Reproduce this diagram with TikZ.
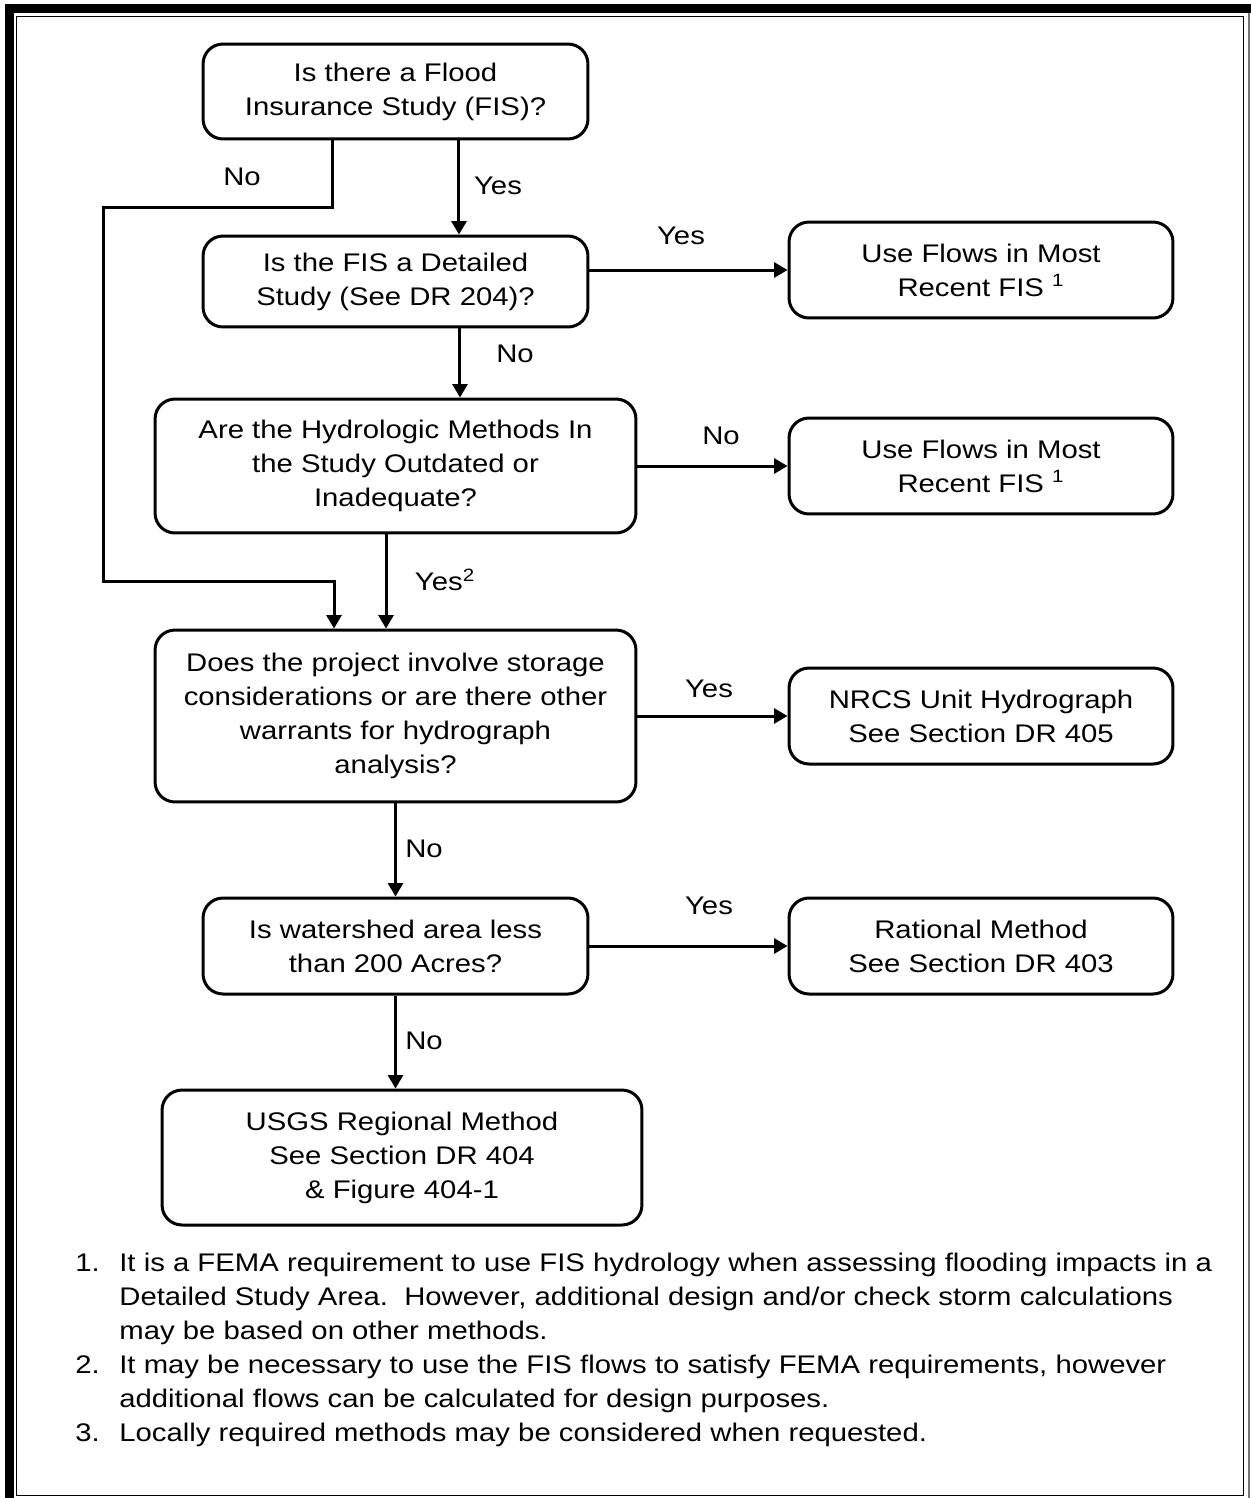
\documentclass[tikz,border=0pt]{standalone}
\usepackage{fontspec}
\setmainfont{Liberation Sans}[FakeStretch=1.15]
\usetikzlibrary{arrows.meta}
\newcommand{\chartfont}{\fontsize{14.5}{19.3}\selectfont}

\begin{document}
\begin{tikzpicture}[
        x=0.02cm, y=-0.02cm,
        box/.style={draw, line width=0.06cm, rounded corners=0.4cm, align=center, inner sep=0pt, font=\chartfont},
        flow/.style={line width=0.06cm, -{Triangle[length=0.27cm, width=0.3cm]}},
        answer/.style={font=\chartfont, inner sep=0pt},
        note/.style={font=\chartfont, inner sep=0pt, align=left, anchor=base west},
    ]
    \useasboundingbox (0,0) rectangle (1251,1498);

    % page border
    \draw[line width=0.17cm] (9.6,1498) -- (9.6,8.4) -- (1251,8.4);
    \draw[line width=0.035cm] (16.5,16.5) rectangle (1243.5,1495.5);
    \draw[line width=0.03cm, black!55] (1249,13) -- (1249,1498);

    % questions
    \node[box, minimum width=7.7cm, minimum height=1.9cm] (fis) at (395.5,91.5) {Is there a Flood\\Insurance Study (FIS)?};
    \node[box, minimum width=7.7cm, minimum height=1.82cm] (detail) at (395.5,281.5) {Is the FIS a Detailed\\Study (See DR 204)?};
    \node[box, minimum width=9.62cm, minimum height=2.68cm] (methods) at (395.5,466) {Are the Hydrologic Methods In\\the Study Outdated or\\Inadequate?};
    \node[box, minimum width=9.62cm, minimum height=3.44cm] (storage) at (395.5,716) {Does the project involve storage\\considerations or are there other\\warrants for hydrograph\\analysis?};
    \node[box, minimum width=7.7cm, minimum height=1.92cm] (area) at (395.5,946) {Is watershed area less\\than 200 Acres?};
    \node[box, minimum width=9.6cm, minimum height=2.7cm] (usgs) at (402,1157.5) {USGS Regional Method\\See Section DR 404\\\& Figure 404-1};

    % results
    \node[box, minimum width=7.68cm, minimum height=1.92cm] (flows1) at (981,270) {Use Flows in Most\\Recent FIS \textsuperscript{1}};
    \node[box, minimum width=7.68cm, minimum height=1.92cm] (flows2) at (981,466) {Use Flows in Most\\Recent FIS \textsuperscript{1}};
    \node[box, minimum width=7.68cm, minimum height=1.92cm] (nrcs) at (981,716) {NRCS Unit Hydrograph\\See Section DR 405};
    \node[box, minimum width=7.68cm, minimum height=1.92cm] (rational) at (981,946) {Rational Method\\See Section DR 403};

    % answers
    \node[answer] (fisno) at (242,177) {No};
    \node[answer] (fisyes) at (498,186) {Yes};
    \node[answer] (detailyes) at (681,236) {Yes};
    \node[answer] (detailno) at (515,354) {No};
    \node[answer] (methodsno) at (721,436) {No};
    \node[answer] (methodsyes) at (445,580) {Yes\textsuperscript{2}};
    \node[answer] (storageyes) at (709,689) {Yes};
    \node[answer] (storageno) at (424,849) {No};
    \node[answer] (areayes) at (709,906) {Yes};
    \node[answer] (areano) at (424,1041) {No};

    % connectors
    \draw[flow] ([xshift=1.27cm]fis.south) -- ([xshift=1.27cm]detail.north);
    \coordinate (nostart) at ([xshift=-1.27cm]fis.south);
    \draw[flow] (nostart) |- (103,207) -- (103,581) -| ([xshift=-1.23cm]storage.north);
    \draw[flow] (detail.east |- flows1.west) -- (flows1.west);
    \coordinate (detaildown) at ([xshift=1.29cm]detail.south);
    \draw[flow] (detaildown) -- (detaildown |- methods.north);
    \draw[flow] (methods.east) -- (flows2.west);
    \draw[flow] ([xshift=-0.19cm]methods.south) -- ([xshift=-0.19cm]storage.north);
    \draw[flow] (storage.east) -- (nrcs.west);
    \draw[flow] (storage.south) -- (area.north);
    \draw[flow] (area.east) -- (rational.west);
    \draw[flow] (area.south) -- (area.south |- usgs.north);

    % notes (base = last line)
    \node[note] (num1) at (75,1271) {1.};
    \node[note] (note1) at (119,1339) {It is a FEMA requirement to use FIS hydrology when assessing flooding impacts in a\\Detailed Study Area.\ \ However, additional design and/or check storm calculations\\may be based on other methods.};
    \node[note] (num2) at (75,1373) {2.};
    \node[note] (note2) at (119,1407) {It may be necessary to use the FIS flows to satisfy FEMA requirements, however\\additional flows can be calculated for design purposes.};
    \node[note] (num3) at (75,1441) {3.};
    \node[note] (note3) at (119,1441) {Locally required methods may be considered when requested.};
\end{tikzpicture}
\end{document}
